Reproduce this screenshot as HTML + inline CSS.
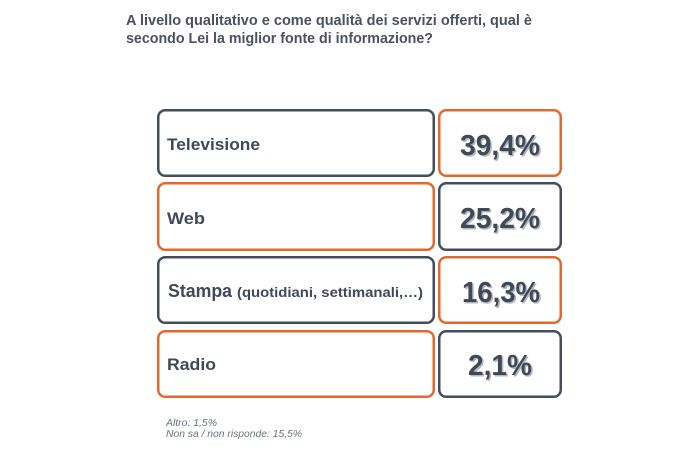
<!DOCTYPE html>
<html>
<head>
<meta charset="utf-8">
<style>
  html, body { margin:0; padding:0; background:#ffffff; }
  body { width:678px; height:454px; overflow:hidden; }
  svg { display:block; }
  text { font-family: "Liberation Sans", "DejaVu Sans", sans-serif; }
</style>
</head>
<body>
<svg width="678" height="454" viewBox="0 0 678 454" xmlns="http://www.w3.org/2000/svg">
  <!-- Title -->
  <text x="126" y="25" font-size="14.5" font-weight="bold" fill="#4a5260" textLength="406" lengthAdjust="spacingAndGlyphs">A livello qualitativo e come qualità dei servizi offerti, qual è</text>
  <text x="126" y="43" font-size="14.5" font-weight="bold" fill="#4a5260" textLength="307" lengthAdjust="spacingAndGlyphs">secondo Lei la miglior fonte di informazione?</text>

  <!-- Row 1 -->
  <rect x="158.25" y="110.25" width="275.5" height="65.5" rx="7" ry="7" fill="#ffffff" stroke="#434d5c" stroke-width="2.5"/>
  <rect x="439.25" y="110.25" width="121.5" height="65.5" rx="7" ry="7" fill="#ffffff" stroke="#e0692f" stroke-width="2.5"/>
  <text x="167" y="150" font-size="17" font-weight="bold" fill="#404958" textLength="93" lengthAdjust="spacingAndGlyphs">Televisione</text>
  <text x="461.5" y="156.5" font-size="29" font-weight="bold" fill="#b4b8be" textLength="80" lengthAdjust="spacingAndGlyphs">39,4%</text>
  <text x="460" y="155" font-size="29" font-weight="bold" fill="#404958" textLength="80" lengthAdjust="spacingAndGlyphs">39,4%</text>

  <!-- Row 2 -->
  <rect x="158.25" y="183.25" width="275.5" height="66.5" rx="7" ry="7" fill="#ffffff" stroke="#e0692f" stroke-width="2.5"/>
  <rect x="439.25" y="183.25" width="121.5" height="66.5" rx="7" ry="7" fill="#ffffff" stroke="#434d5c" stroke-width="2.5"/>
  <text x="167" y="224" font-size="17" font-weight="bold" fill="#404958" textLength="38" lengthAdjust="spacingAndGlyphs">Web</text>
  <text x="461.5" y="229.5" font-size="29" font-weight="bold" fill="#b4b8be" textLength="80" lengthAdjust="spacingAndGlyphs">25,2%</text>
  <text x="460" y="228" font-size="29" font-weight="bold" fill="#404958" textLength="80" lengthAdjust="spacingAndGlyphs">25,2%</text>

  <!-- Row 3 -->
  <rect x="158.25" y="257.25" width="275.5" height="65.5" rx="7" ry="7" fill="#ffffff" stroke="#434d5c" stroke-width="2.5"/>
  <rect x="439.25" y="257.25" width="121.5" height="65.5" rx="7" ry="7" fill="#ffffff" stroke="#e0692f" stroke-width="2.5"/>
  <text x="168" y="297" font-size="18" font-weight="bold" fill="#404958" textLength="64" lengthAdjust="spacingAndGlyphs">Stampa</text>
  <text x="237" y="297" font-size="14" font-weight="bold" fill="#404958" textLength="186" lengthAdjust="spacingAndGlyphs">(quotidiani, settimanali,…)</text>
  <text x="463.5" y="303.5" font-size="29" font-weight="bold" fill="#b4b8be" textLength="78" lengthAdjust="spacingAndGlyphs">16,3%</text>
  <text x="462" y="302" font-size="29" font-weight="bold" fill="#404958" textLength="78" lengthAdjust="spacingAndGlyphs">16,3%</text>

  <!-- Row 4 -->
  <rect x="158.25" y="331.25" width="275.5" height="65.5" rx="7" ry="7" fill="#ffffff" stroke="#e0692f" stroke-width="2.5"/>
  <rect x="439.25" y="331.25" width="121.5" height="65.5" rx="7" ry="7" fill="#ffffff" stroke="#434d5c" stroke-width="2.5"/>
  <text x="167" y="370" font-size="17" font-weight="bold" fill="#404958" textLength="49" lengthAdjust="spacingAndGlyphs">Radio</text>
  <text x="469.5" y="376.5" font-size="29" font-weight="bold" fill="#b4b8be" textLength="64" lengthAdjust="spacingAndGlyphs">2,1%</text>
  <text x="468" y="375" font-size="29" font-weight="bold" fill="#404958" textLength="64" lengthAdjust="spacingAndGlyphs">2,1%</text>

  <!-- Footnote -->
  <text x="166" y="426" font-size="10.5" font-style="italic" fill="#6b7280" textLength="51" lengthAdjust="spacingAndGlyphs">Altro: 1,5%</text>
  <text x="166" y="437" font-size="10.5" font-style="italic" fill="#6b7280" textLength="136" lengthAdjust="spacingAndGlyphs">Non sa / non risponde: 15,5%</text>
</svg>
</body>
</html>
